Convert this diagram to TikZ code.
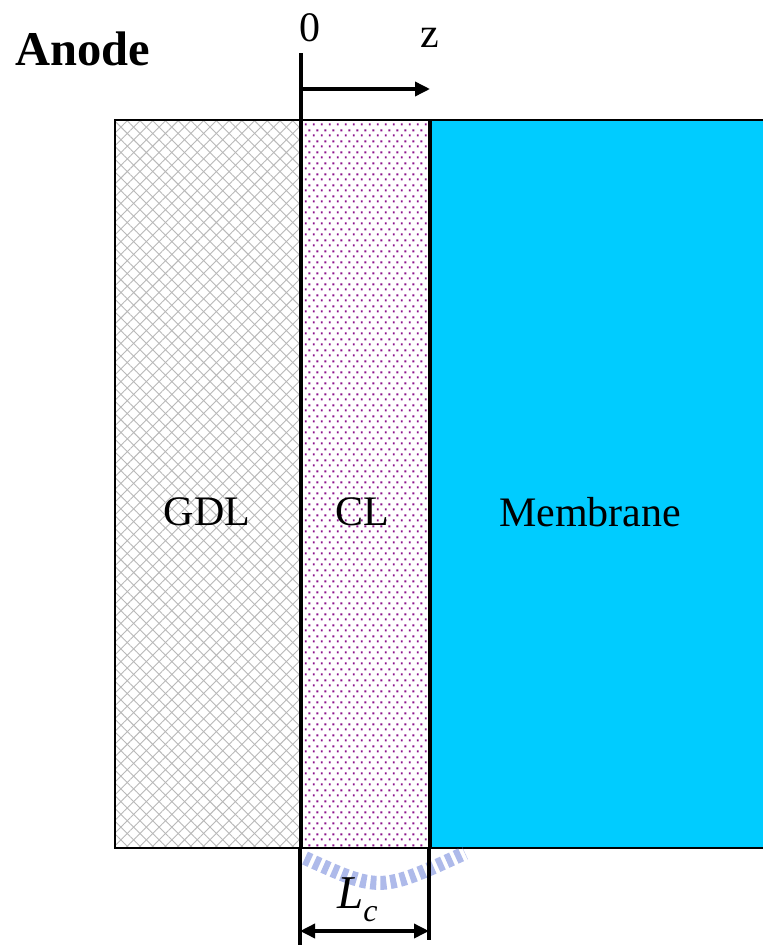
\documentclass[tikz,border=0pt]{standalone}
\usepackage{fontspec}
\setmainfont{Liberation Serif}
\usetikzlibrary{patterns.meta,arrows.meta}
\definecolor{membr}{RGB}{0,204,255}
\definecolor{dotc}{RGB}{140,20,140}
\definecolor{wmark}{RGB}{120,140,220}
\tikzdeclarepattern{
  name=cldots,
  type=colored,
  bounding box={(0pt,0pt) and (8pt,10.6pt)},
  tile size={(8pt,10.6pt)},
  code={
    \fill[dotc] (1pt,1.65pt) rectangle (3pt,3.65pt);
    \fill[dotc] (5pt,6.95pt) rectangle (7pt,8.95pt);
  }
}
\tikzset{
  lbl/.style={font=\fontsize{42}{48}\selectfont, inner sep=0pt},
  border/.style={line width=2.2pt, draw=black},
  sep/.style={line width=3.2pt, draw=black},
  dim/.style={line width=3.5pt, draw=black},
  >={Triangle[length=15pt,width=14pt]}
}
\begin{document}
\begin{tikzpicture}[x=1pt,y=-1pt]
\useasboundingbox (0,0) rectangle (763,948);
% regions
\coordinate (gtl) at (115,120);
\coordinate (gbr) at (301,848);
\coordinate (ctl) at (301,120);
\coordinate (cbr) at (430,848);
\coordinate (mtl) at (430,120);
\coordinate (mbr) at (763,848);
\fill[white] (gtl) rectangle (gbr);
\path[pattern={Lines[angle=45,distance=9pt,line width=0.9pt]},pattern color=gray!55] (gtl) rectangle (gbr);
\path[pattern={Lines[angle=-45,distance=9pt,line width=0.9pt]},pattern color=gray!55] (gtl) rectangle (gbr);
\path[pattern=cldots] (ctl) rectangle (cbr);
\fill[membr] (mtl) rectangle (mbr);
% borders
\draw[border] (763,120) -- (gtl) -- (115,848) -- (763,848);
\draw[sep] (301,53) -- (301,848);
\draw[sep] (mtl) -- (cbr);
% watermark
\draw[wmark, opacity=0.6, line width=14pt, dash pattern=on 6pt off 4pt] (305,858) .. controls (380,892) .. (465,853);
% labels
\node[lbl] (gdl) at (207,512) {GDL};
\node[lbl] (cl) at (362,512) {CL};
\node[lbl] (mem) at (590,512) {Membrane};
\node[lbl, font=\fontsize{48.5}{54}\selectfont\bfseries, anchor=base west] (anode) at (15,65) {Anode};
\node[lbl] (zero) at (310,28) {0};
\node[lbl] (zlab) at (430,38) {z};
% z arrow
\coordinate (za) at (302,89);
\coordinate (zb) at (430,89);
\draw[dim, ->] (za) -- (zb);
% Lc dimension
\coordinate (l1t) at (300,848);
\coordinate (l1b) at (300,945);
\coordinate (l2t) at (429,848);
\coordinate (l2b) at (429,940);
\draw[dim] (l1t) -- (l1b);
\draw[dim] (l2t) -- (l2b);
\coordinate (da) at (300,931);
\coordinate (db) at (429,931);
\draw[dim, <->] (da) -- (db);
\node[lbl, anchor=base west, font=\fontsize{47}{52}\selectfont] (lc) at (337,908) {\itshape L\raisebox{-13pt}{\fontsize{32}{36}\selectfont c}};
\end{tikzpicture}
\end{document}
